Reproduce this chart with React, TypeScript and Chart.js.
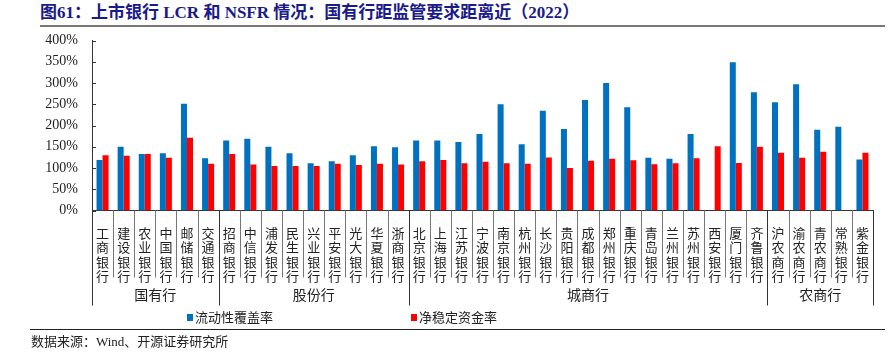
import React, { useEffect, useRef } from "react";
import { Chart, registerables } from "chart.js";

Chart.register(...registerables);

const banks = [
  "工商银行", "建设银行", "农业银行", "中国银行", "邮储银行", "交通银行",
  "招商银行", "中信银行", "浦发银行", "民生银行", "兴业银行", "平安银行", "光大银行", "华夏银行", "浙商银行",
  "北京银行", "上海银行", "江苏银行", "宁波银行", "南京银行", "杭州银行", "长沙银行", "贵阳银行", "成都银行",
  "郑州银行", "重庆银行", "青岛银行", "兰州银行", "苏州银行", "西安银行", "厦门银行", "齐鲁银行",
  "沪农商行", "渝农商行", "青农商行", "常熟银行", "紫金银行",
];

const groupNames = ["国有行", "股份行", "城商行", "农商行"];
const groupSizes = [6, 9, 17, 5];

const lcr = [
  119, 150, 133, 135, 251, 123,
  165, 169, 150, 135, 111, 116, 130, 151, 149,
  165, 165, 161, 180, 250, 156, 235, 192, 260,
  300, 243, 124, 122, 180, null, 349, 278,
  255, 297, 190, 197, 120,
];

const nsfr = [
  130, 129, 133, 124, 171, 110,
  133, 108, 105, 105, 105, 110, 107, 110, 108,
  116, 119, 111, 115, 111, 110, 125, 100, 117,
  122, 118, 109, 111, 123, 151, 112, 150,
  136, 124, 138, null, 136,
];

const seriesNames = ["流动性覆盖率", "净稳定资金率"];
const seriesColors = ["#0070C0", "#FF0000"];
const yTicksMax = 400;
const yTicksStep = 50;

const cjk = '"Noto Sans CJK SC", sans-serif';
const serif = '"Liberation Serif", "Noto Sans CJK SC", serif';

const groupPlugin = {
  id: "groupPlugin",
  afterDraw(chart: any) {
    const { ctx, chartArea, scales } = chart;
    const x = scales.x;
    const y = scales.y;
    const axisY = chartArea.bottom;
    ctx.save();
    ctx.strokeStyle = "#333";
    ctx.lineWidth = 1;
    for (let v = 0; v <= yTicksMax; v += yTicksStep) {
      const py = Math.round(y.getPixelForValue(v)) + 0.5;
      ctx.beginPath();
      ctx.moveTo(chartArea.left, py);
      ctx.lineTo(chartArea.left + 4, py);
      ctx.stroke();
    }
    const boundaries = new Set<number>();
    let acc = 0;
    boundaries.add(0);
    groupSizes.forEach((s) => {
      acc += s;
      boundaries.add(acc);
    });
    for (let i = 0; i <= banks.length; i++) {
      const px = Math.round(x.getPixelForValue(i - 0.5)) + 0.5;
      const isGroup = boundaries.has(i);
      ctx.strokeStyle = isGroup ? "#333" : "#777";
      ctx.lineWidth = 1;
      ctx.beginPath();
      ctx.moveTo(px, axisY);
      ctx.lineTo(px, isGroup ? axisY + 95 : axisY + 67);
      ctx.stroke();
    }
    ctx.fillStyle = "#222";
    ctx.font = `14px ${cjk}`;
    ctx.textAlign = "center";
    ctx.textBaseline = "middle";
    let start = 0;
    groupNames.forEach((name, gi) => {
      const end = start + groupSizes[gi];
      const left = x.getPixelForValue(start - 0.5);
      const right = x.getPixelForValue(end - 0.5);
      ctx.fillText(name, (left + right) / 2, axisY + 84);
      start = end;
    });
    ctx.restore();
  },
};

function ChartView() {
  const ref = useRef<HTMLCanvasElement>(null);
  useEffect(() => {
    if (!ref.current) return;
    const chart = new Chart(ref.current, {
      type: "bar",
      data: {
        labels: banks.map((b) => b.split("")),
        datasets: [
          {
            label: seriesNames[0],
            data: lcr,
            backgroundColor: seriesColors[0],
            barPercentage: 1,
            categoryPercentage: 0.57,
          },
          {
            label: seriesNames[1],
            data: nsfr,
            backgroundColor: seriesColors[1],
            barPercentage: 1,
            categoryPercentage: 0.57,
          },
        ],
      },
      options: {
        responsive: false,
        animation: false,
        devicePixelRatio: 1,
        layout: { padding: { top: 40.5, right: 17, left: 0, bottom: 0 } },
        plugins: { legend: { display: false }, tooltip: { enabled: false } },
        scales: {
          x: {
            grid: { display: false },
            border: { display: true, color: "#333", width: 1 },
            ticks: {
              autoSkip: false,
              maxRotation: 0,
              minRotation: 0,
              padding: 8,
              color: "#222",
              font: { family: cjk, size: 13, lineHeight: 1.08 },
            },
            afterFit(scale: any) {
              scale.height = 145.5;
            },
          },
          y: {
            min: 0,
            max: yTicksMax,
            grid: { display: false },
            border: { display: true, color: "#333", width: 1 },
            ticks: {
              stepSize: yTicksStep,
              padding: 6,
              color: "#222",
              font: { family: serif, size: 14 },
              callback: (v: any) => `${v}%`,
            },
            afterFit(scale: any) {
              scale.width = 92;
            },
          },
        },
      },
      plugins: [groupPlugin],
    });
    return () => chart.destroy();
  }, []);
  return (
    <canvas
      ref={ref}
      width={890}
      height={356}
      style={{ position: "absolute", left: 0, top: 0, width: 890, height: 356 }}
    />
  );
}

export default function App() {
  return (
    <div
      style={{
        position: "fixed",
        left: 0,
        top: 0,
        width: 890,
        height: 356,
        background: "#fff",
        overflow: "hidden",
      }}
    >
      <div
        style={{
          position: "absolute",
          left: 40,
          top: 3,
          fontFamily: serif,
          fontWeight: "bold",
          fontSize: 17,
          color: "#1A1A8A",
          whiteSpace: "nowrap",
          lineHeight: "20px",
        }}
      >
        图61：上市银行 LCR 和 NSFR 情况：国有行距监管要求距离近（2022）
      </div>
      <div
        style={{
          position: "absolute",
          left: 40,
          top: 25,
          width: 845,
          height: 1.5,
          background: "#777",
        }}
      />
      <ChartView />
      {seriesNames.map((name, i) => (
        <div
          key={name}
          style={{
            position: "absolute",
            left: i === 0 ? 187 : 411,
            top: 309,
            display: "flex",
            alignItems: "center",
            fontFamily: cjk,
            fontSize: 13,
            color: "#222",
            whiteSpace: "nowrap",
            lineHeight: "16px",
          }}
        >
          <span
            style={{
              display: "inline-block",
              width: 6,
              height: 7,
              background: seriesColors[i],
              marginRight: 2,
            }}
          />
          {name}
        </div>
      ))}
      <div
        style={{
          position: "absolute",
          left: 30,
          top: 328.5,
          width: 855,
          height: 1.5,
          background: "#222",
        }}
      />
      <div
        style={{
          position: "absolute",
          left: 31,
          top: 334,
          fontFamily: serif,
          fontSize: 13,
          color: "#222",
          whiteSpace: "nowrap",
          lineHeight: "16px",
        }}
      >
        数据来源：Wind、开源证券研究所
      </div>
    </div>
  );
}
